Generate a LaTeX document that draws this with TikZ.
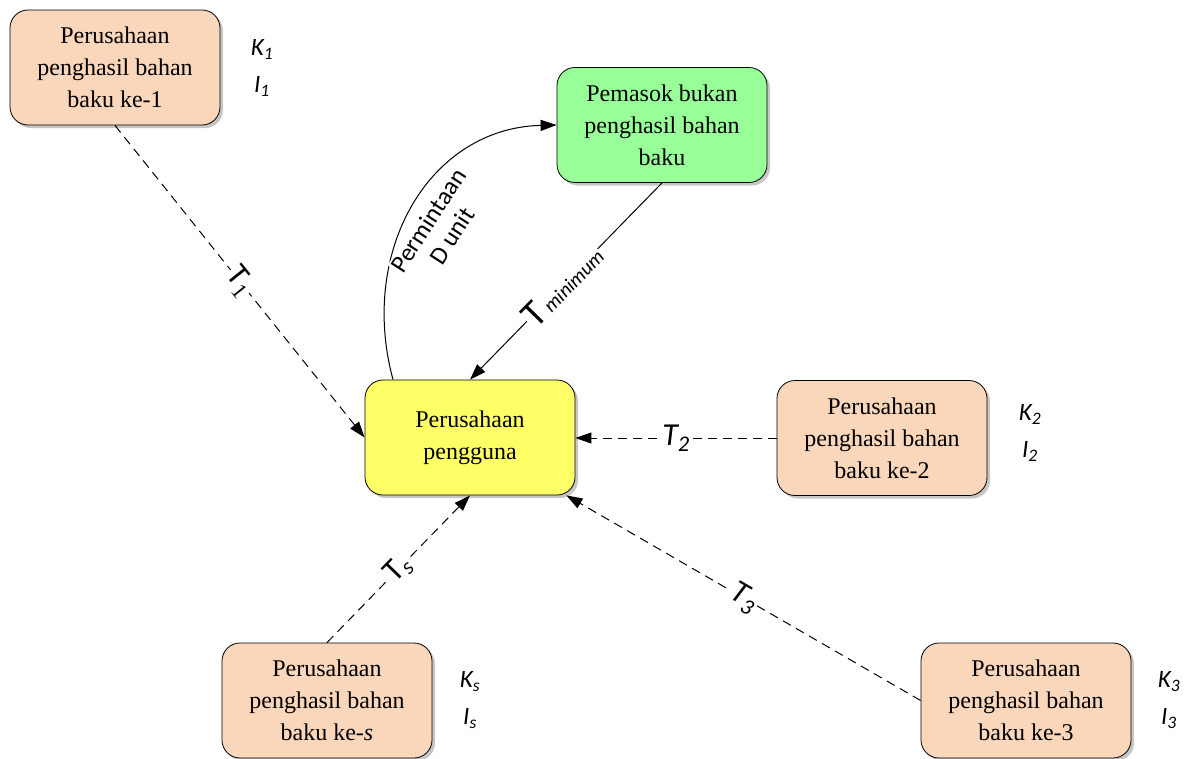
\documentclass[tikz,border=0pt]{standalone}
\usepackage{fontspec}
\setmainfont{Liberation Serif}
\newfontfamily\labfont{Carlito}
\usetikzlibrary{arrows.meta,shadows,calc}
\definecolor{peach}{RGB}{250,214,186}
\definecolor{mintgreen}{RGB}{153,255,153}
\definecolor{lemon}{RGB}{255,255,102}
\begin{document}
\begin{tikzpicture}[x=1pt,y=-1pt,
  box/.style={draw, line width=0.8pt, rounded corners=18pt,
    minimum width=210pt, minimum height=115pt, align=center, inner sep=0pt,
    font=\fontsize{24}{32}\selectfont,
    drop shadow={shadow xshift=3pt, shadow yshift=-3pt, opacity=0.45}},
  maker/.style={box, fill=peach},
  klabel/.style={font=\labfont\itshape\fontsize{25}{37}\selectfont, align=center},
  elab/.style={font=\labfont\fontsize{32}{32}\selectfont, fill=white, inner sep=1pt, sloped},
  dline/.style={dash pattern=on 9pt off 6pt, line width=1pt},
  sline/.style={line width=1pt},
  tip/.style={-{Triangle[length=16pt,width=11pt]}}]
\useasboundingbox (0,0) rectangle (1194,758);

% boxes
\node[maker] (b1) at (115,67.5) {Perusahaan\\penghasil bahan\\baku ke-1};
\node[box, fill=mintgreen] (pem) at (662,125) {Pemasok bukan\\penghasil bahan\\baku};
\node[box, fill=lemon] (user) at (470,437.5) {Perusahaan\\pengguna};
\node[maker] (b2) at (882,438) {Perusahaan\\penghasil bahan\\baku ke-2};
\node[maker] (bs) at (327,700.5) {Perusahaan\\penghasil bahan\\baku ke-\textit{s}};
\node[maker] (b3) at (1026,700.5) {Perusahaan\\penghasil bahan\\baku ke-3};

% capacity / inventory labels
\node[klabel] (k1) at (262,68) {K\textsubscript{1}\\I\textsubscript{1}};
\node[klabel] (k2) at (1030,433) {K\textsubscript{2}\\I\textsubscript{2}};
\node[klabel] (ks) at (470,700) {K\textsubscript{s}\\I\textsubscript{s}};
\node[klabel] (k3) at (1169,700) {K\textsubscript{3}\\I\textsubscript{3}};

% delivery links
\draw[dline,tip] (b1.south) -- node[elab] {T\textsubscript{\rmfamily 1}} (user.west);
\draw[dline,tip] (b2.west) -- node[elab] {\itshape T\textsubscript{2}} (user.east |- b2.west);
\draw[dline,tip] (bs.north) -- node[elab] {T\textsubscript{\itshape s}} (user.south);
\draw[dline,tip] (b3.west) -- node[elab] {\itshape T\textsubscript{3}} ([xshift=-9pt]user.south east);

% order and supply with the non-producing supplier
\draw[sline,tip] ([xshift=-77pt]user.north) .. controls (358,250) and (430,128) .. (pem.west);
\node[font=\labfont\fontsize{25}{28}\selectfont, align=center, rotate=57, fill=white, inner sep=1pt]
  (req) at (440,228) {Permintaan\\D unit};
\draw[sline,tip] (pem.south) -- node[elab, pos=0.52]
  {{\fontsize{38}{38}\selectfont T}{\itshape\fontsize{20}{20}\selectfont\,minimum}} (user.north);
\end{tikzpicture}
\end{document}
